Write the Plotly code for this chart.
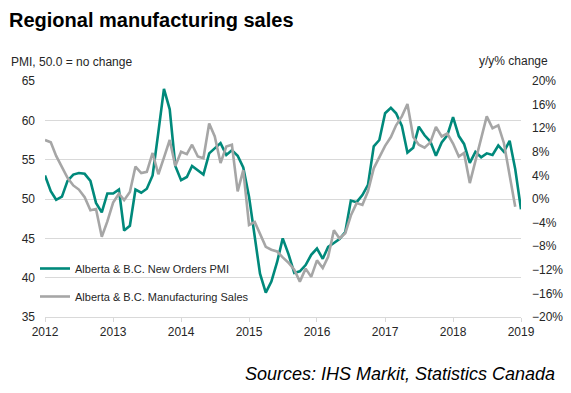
import pandas as pd
import plotly.graph_objects as go

pmi_start = "2012-01-01"
pmi_values = [
    53.0, 51.0, 49.9, 50.3, 52.3, 53.1, 53.3, 53.2, 52.3, 49.5, 48.3, 50.7,
    50.7, 51.2, 46.0, 46.6, 51.2, 50.8, 51.3, 53.0, 58.5, 64.0, 61.4, 54.2,
    52.4, 52.8, 54.2, 53.6, 53.1, 55.8, 56.4, 57.1, 55.6, 56.2, 55.5, 54.0,
    50.3, 45.0, 40.5, 38.1, 39.5, 42.0, 45.0, 43.0, 40.6, 40.8, 41.6, 42.9,
    43.7, 42.4, 43.9, 44.4, 44.9, 45.8, 49.8, 49.6, 50.5, 51.8, 56.7, 57.5,
    60.9, 61.6, 60.9, 59.3, 55.9, 56.5, 59.2, 58.1, 57.3, 55.5, 57.2, 58.1,
    60.4, 58.0, 57.0, 54.6, 56.0, 55.3, 55.8, 55.6, 56.8, 56.0, 57.4, 53.8,
    48.7,
]
sales_values = [
    10.0, 9.6, 7.3, 5.3, 3.6, 2.3, 1.6, 0.3, -1.9, -1.7, -6.4, -3.8,
    -0.6, 0.9, -0.2, 1.2, 5.5, 4.4, 4.6, 7.8, 4.2, 7.0, 10.0, 5.6,
    8.0, 7.6, 9.2, 7.2, 6.9, 12.8, 10.6, 6.1, 8.9, 9.2, 1.3, 4.9,
    -4.4, -3.9, -5.8, -8.1, -8.6, -8.9, -9.9, -10.8, -12.0, -14.0, -11.8, -13.2,
    -10.4, -11.7, -9.8, -5.3, -6.7, -5.8, -2.8, -0.7, -1.0, 1.3, 5.2, 7.0,
    9.0, 10.5, 12.5, 14.0, 16.1, 10.5, 9.2, 8.7, 9.6, 12.2, 10.6, 11.1,
    9.4, 7.2, 7.8, 2.7, 6.5, 10.3, 14.0, 12.0, 12.5, 9.5, 3.8, -1.3,
]
year_ticks = ["2012", "2013", "2014", "2015", "2016", "2017", "2018", "2019"]
pmi_name = "Alberta & B.C. New Orders PMI"
sales_name = "Alberta & B.C. Manufacturing Sales"

pmi_dates = pd.date_range(pmi_start, periods=len(pmi_values), freq="MS")
sales_dates = pd.date_range(pmi_start, periods=len(sales_values), freq="MS")

TEAL = "#00897b"
GREY = "#a6a6a6"
TXT = "#262626"
FONT = "Liberation Sans, Arial, sans-serif"

fig = go.Figure()
fig.add_trace(go.Scatter(x=pmi_dates, y=pmi_values, mode="lines", name=pmi_name,
                         line=dict(color=TEAL, width=2.6), legendgroup="a",
                         yaxis="y"))
fig.add_trace(go.Scatter(x=sales_dates, y=sales_values, mode="lines", name=sales_name,
                         line=dict(color=GREY, width=2.6), legendgroup="b",
                         yaxis="y2"))

W, H = 571, 393
L, R, T, B = 45, 521, 81, 317

def px(x):
    return (x - L) / (R - L)

def py(y):
    return (B - y) / (B - T)

fig.update_layout(
    width=W, height=H,
    margin=dict(l=L, r=W - R, t=T, b=H - B, pad=0, autoexpand=False),
    paper_bgcolor="white", plot_bgcolor="white",
    font=dict(family=FONT, size=12, color=TXT),
    showlegend=True,
    legend=dict(xref="container", yref="container",
                x=35 / W, y=1 - 254 / H, xanchor="left", yanchor="top",
                bgcolor="rgba(0,0,0,0)", font=dict(size=11, color=TXT),
                traceorder="grouped", tracegroupgap=9, itemwidth=30),
    xaxis=dict(
        type="date",
        range=["2012-01-01", "2019-01-01"],
        tickvals=[f"{y}-01-01" for y in year_ticks],
        ticktext=year_ticks,
        showgrid=False, zeroline=False,
        showline=True, linecolor="#d9d9d9", linewidth=1,
        ticks="outside", ticklen=4, tickcolor="#d9d9d9",
        tickfont=dict(size=12, color=TXT),
    ),
    yaxis=dict(
        range=[35, 65], dtick=5, tick0=35,
        showgrid=True, gridcolor="#d9d9d9", gridwidth=1,
        zeroline=False, showline=False, ticks="", ticklabelstandoff=9,
        tickfont=dict(size=12, color=TXT),
    ),
    yaxis2=dict(
        range=[-20, 20], dtick=4, tick0=-20, ticksuffix="%",
        overlaying="y", side="right", showgrid=False, zeroline=False,
        showline=False, ticks="", ticklabelstandoff=10,
        tickfont=dict(size=12, color=TXT),
    ),
    annotations=[
        dict(text="<b>Regional manufacturing sales</b>", xref="paper", yref="paper",
             x=px(7), y=py(20), xanchor="left", yanchor="middle", showarrow=False,
             font=dict(size=20, color="#000000")),
        dict(text="PMI, 50.0 = no change", xref="paper", yref="paper",
             x=px(9), y=py(62), xanchor="left", yanchor="middle", showarrow=False,
             font=dict(size=12, color=TXT)),
        dict(text="y/y% change", xref="paper", yref="paper",
             x=px(550), y=py(61), xanchor="right", yanchor="middle", showarrow=False,
             font=dict(size=12, color=TXT)),
        dict(text="<i>Sources: IHS Markit, Statistics Canada</i>", xref="paper", yref="paper",
             x=px(557), y=py(374), xanchor="right", yanchor="middle", showarrow=False,
             font=dict(size=18, color="#000000")),
    ],
)

fig.write_html(
    "out.html",
    config={"displayModeBar": False},
    post_script="document.body.style.margin='0';document.body.style.padding='0';",
)
